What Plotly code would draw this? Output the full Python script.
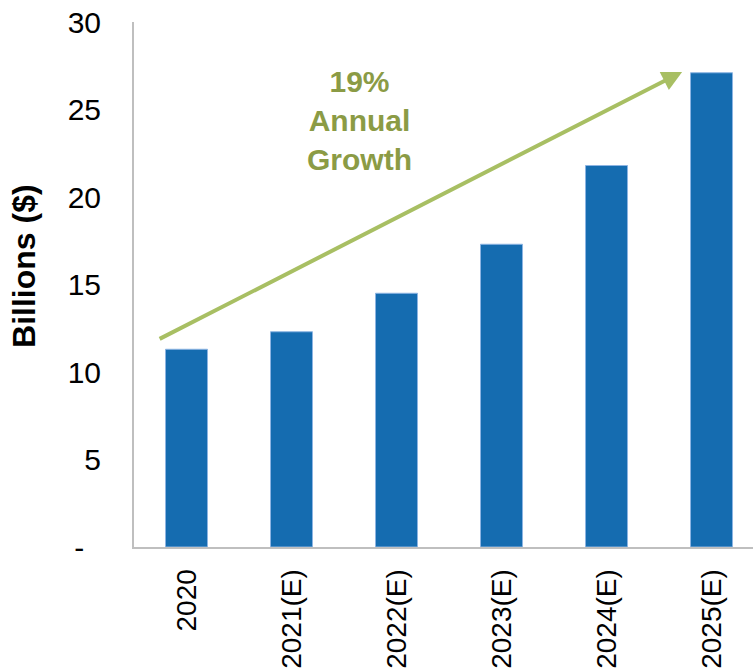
import plotly.graph_objects as go

categories = ["2020", "2021(E)", "2022(E)", "2023(E)", "2024(E)", "2025(E)"]
values = [11.3, 12.3, 14.5, 17.3, 21.8, 27.1]
ytick_vals = [0, 5, 10, 15, 20, 25, 30]
ytick_text = ["-&nbsp;&nbsp;", "5", "10", "15", "20", "25", "30"]
growth_label = "<b>19%<br>Annual<br>Growth</b>"
y_title = "<b>Billions ($)</b>"
# arrow start/end in data coordinates (category index, value)
arrow_start = (-0.27, 11.85)
arrow_end = (4.72, 27.15)

FONT = "Liberation Sans, Arial, sans-serif"

fig = go.Figure()
fig.add_trace(go.Bar(
    x=list(range(len(categories))),
    y=values,
    width=0.4,
    marker=dict(color="#156CB0", line=dict(color="#8DB4E2", width=1)),
))

fig.add_annotation(
    x=arrow_end[0], y=arrow_end[1], ax=arrow_start[0], ay=arrow_start[1],
    xref="x", yref="y", axref="x", ayref="y",
    text="", showarrow=True, arrowhead=2, arrowsize=1, arrowwidth=4,
    arrowcolor="#A8BF63",
)
fig.add_annotation(
    x=1.652, y=24.4, xref="x", yref="y", text=growth_label,
    showarrow=False, font=dict(family=FONT, size=30, color="#8B9B45"),
    align="center", xanchor="center", yanchor="middle",
)
# y-axis title as rotated annotation (sits slightly above plot centre)
fig.add_annotation(
    x=-0.178, y=0.535, xref="paper", yref="paper", text=y_title,
    showarrow=False, textangle=-90,
    font=dict(family=FONT, size=32, color="black"),
    xanchor="center", yanchor="middle",
)

fig.update_layout(
    width=753, height=670,
    margin=dict(l=134, r=0, t=22, b=123),
    paper_bgcolor="white", plot_bgcolor="white",
    showlegend=False,
    font=dict(family=FONT, size=30, color="black"),
    bargap=0.6,
)
fig.update_xaxes(
    range=[-0.5, 5.395],
    tickmode="array", tickvals=list(range(len(categories))), ticktext=categories,
    tickangle=-90, showline=True, linecolor="#BFBFBF", linewidth=2,
    showgrid=False, zeroline=False, ticks="", ticklabelstandoff=9,
    automargin=False,
    tickfont=dict(family=FONT, size=28, color="black"),
)
fig.update_yaxes(
    range=[0, 30], tickmode="array", tickvals=ytick_vals, ticktext=ytick_text,
    showline=True, linecolor="#BFBFBF", linewidth=2,
    showgrid=False, zeroline=False, ticks="", ticklabelstandoff=25,
    automargin=False,
    tickfont=dict(family=FONT, size=30, color="black"),
)

fig.write_html("out.html")
